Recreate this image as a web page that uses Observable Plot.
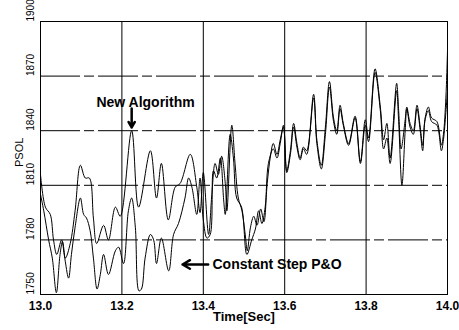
<!DOCTYPE html>
<html><head><meta charset="utf-8">
<script src="https://cdn.jsdelivr.net/npm/d3@7"></script>
<script src="https://cdn.jsdelivr.net/npm/@observablehq/plot@0.6"></script>
<style>body{margin:0;background:#fff}</style>
</head><body><div id="chart"></div>
<script>
const tA=[13.000,13.012,13.024,13.032,13.040,13.052,13.061,13.073,13.085,13.098,13.110,13.120,13.130,13.138,13.155,13.167,13.184,13.196,13.224,13.241,13.270,13.285,13.297,13.314,13.331,13.343,13.368,13.384,13.392,13.400,13.413,13.421,13.429,13.437,13.445,13.454,13.458,13.470,13.478,13.486,13.495,13.504,13.508,13.516,13.524,13.532,13.541,13.549,13.557,13.565,13.572,13.581,13.589,13.597,13.605,13.614,13.622,13.630,13.638,13.646,13.654,13.671,13.679,13.690,13.700,13.710,13.720,13.728,13.736,13.744,13.757,13.773,13.786,13.798,13.806,13.822,13.835,13.843,13.851,13.859,13.875,13.880,13.886,13.896,13.900,13.908,13.916,13.925,13.933,13.939,13.945,13.953,13.961,13.974,13.985,13.990,13.996,14.000];
const vA=[1816,1798,1794,1780,1772,1780,1770,1778,1796,1821,1814,1814,1792,1778,1788,1780,1798,1793,1840,1798,1829,1803,1822,1791,1809,1811,1827,1809,1795,1817,1783,1805,1822,1816,1826,1811,1796,1843,1822,1803,1796,1781,1774,1787,1793,1788,1797,1790,1811,1826,1833,1827,1835,1842,1818,1829,1844,1833,1825,1831,1829,1860,1835,1821,1842,1867,1847,1840,1854,1844,1833,1848,1823,1846,1836,1874,1853,1835,1844,1825,1866,1851,1830,1846,1853,1844,1840,1854,1842,1832,1847,1853,1847,1845,1832,1838,1858,1884];
const tB=[13.000,13.008,13.020,13.029,13.039,13.048,13.054,13.061,13.069,13.076,13.085,13.098,13.106,13.113,13.122,13.130,13.139,13.147,13.155,13.167,13.184,13.192,13.204,13.216,13.224,13.233,13.242,13.248,13.257,13.270,13.278,13.285,13.297,13.315,13.327,13.339,13.355,13.364,13.372,13.384,13.392,13.400,13.409,13.417,13.425,13.433,13.442,13.450,13.454,13.466,13.474,13.482,13.494,13.507,13.519,13.528,13.536,13.544,13.552,13.560,13.572,13.581,13.589,13.597,13.605,13.614,13.622,13.630,13.638,13.646,13.654,13.671,13.679,13.690,13.700,13.710,13.720,13.728,13.736,13.744,13.757,13.773,13.786,13.798,13.806,13.822,13.835,13.843,13.851,13.859,13.875,13.880,13.888,13.896,13.900,13.908,13.916,13.925,13.933,13.939,13.945,13.953,13.961,13.974,13.985,13.990,13.996,14.000];
const vB=[1805,1796,1780,1770,1751,1772,1779,1768,1759,1772,1787,1803,1794,1792,1785,1770,1753,1761,1772,1761,1774,1776,1767,1796,1803,1787,1752,1753,1770,1783,1780,1767,1781,1763,1783,1789,1803,1814,1809,1794,1814,1791,1781,1783,1818,1814,1825,1802,1794,1838,1825,1803,1798,1772,1780,1786,1796,1789,1798,1822,1830,1825,1833,1843,1817,1827,1842,1831,1824,1830,1827,1858,1833,1819,1838,1864,1845,1838,1852,1843,1832,1847,1822,1843,1834,1872,1851,1830,1836,1822,1862,1845,1810,1840,1852,1842,1838,1852,1840,1829,1846,1851,1845,1843,1829,1835,1850,1862];
const xTicks=[13.0,13.2,13.4,13.6,13.8,14.0];
const yTicks=[1750,1780,1810,1840,1870,1900];
const annLabels=["New Algorithm","Constant Step P&O"];

const A=tA.map((t,i)=>({t,v:vA[i]}));
const B=tB.map((t,i)=>({t,v:vB[i]}));

const chart=Plot.plot({
  width:459,height:330,
  marginLeft:40,marginRight:12,marginTop:21,marginBottom:36,
  x:{domain:[13,14],axis:null},
  y:{domain:[1750,1900],axis:null},
  style:{background:"#fff",fontFamily:"Liberation Sans, Arial, sans-serif"},
  marks:[
    Plot.ruleX(xTicks.slice(1,-1),{stroke:"#000",strokeWidth:1}),
    Plot.ruleY(yTicks.slice(1,-1),{stroke:"#000",strokeWidth:1,strokeDasharray:"40,4,10,4"}),
    Plot.frame({stroke:"#000",strokeWidth:1}),
    Plot.line(B,{x:"t",y:"v",curve:"catmull-rom",stroke:"#000",strokeWidth:1,clip:true}),
    Plot.line(A,{x:"t",y:"v",curve:"catmull-rom",stroke:"#000",strokeWidth:1,clip:true}),
    Plot.text(xTicks,{x:d=>d,frameAnchor:"bottom",dy:15,text:d=>d.toFixed(1),fontWeight:"bold",fontSize:12,letterSpacing:1}),
    Plot.text(yTicks,{y:d=>d,frameAnchor:"left",dx:-10,rotate:-90,text:d=>String(d),fontSize:10,fontFamily:"Liberation Sans Narrow, Liberation Sans, sans-serif"}),
    Plot.text(["Time[Sec]"],{frameAnchor:"bottom",dy:26,fontWeight:"bold",fontSize:13,letterSpacing:1.5}),
    Plot.text(["PSOL"],{frameAnchor:"left",dx:-21,dy:9,rotate:-90,fontSize:11}),
    Plot.text([annLabels[0]],{x:13.258,y:1855.5,fontWeight:"bold",fontSize:14,letterSpacing:0.6}),
    Plot.arrow([0],{x1:13.224,y1:1852.2,x2:13.224,y2:1841.8,stroke:"#000",strokeWidth:2.5,headLength:7}),
    Plot.text([annLabels[1]],{x:13.4226,y:1766.5,textAnchor:"start",fontWeight:"bold",fontSize:14,letterSpacing:0.8}),
    Plot.arrow([0],{x1:13.412,y1:1766.5,x2:13.349,y2:1766.5,stroke:"#000",strokeWidth:2.5,headLength:7})
  ]
});
document.getElementById("chart").appendChild(chart);
</script>
</body></html>
